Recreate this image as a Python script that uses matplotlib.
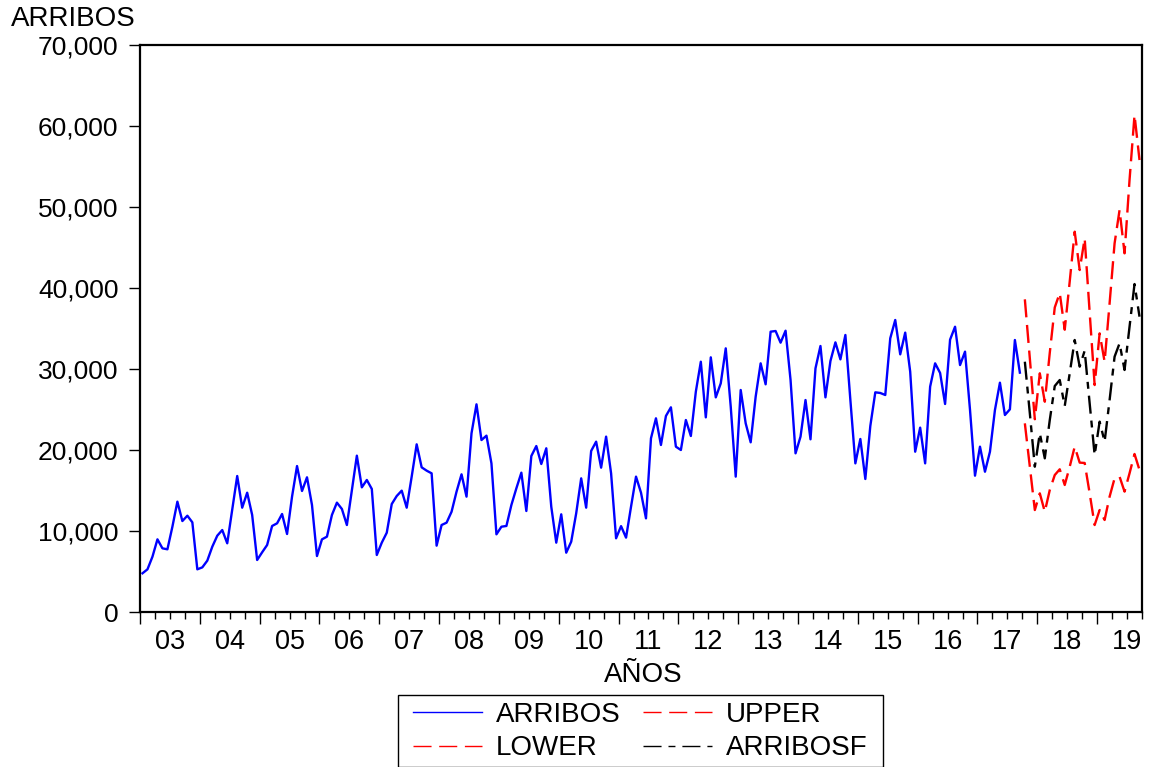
import numpy as np
import pandas as pd
import matplotlib
matplotlib.use("Agg")
import matplotlib.pyplot as plt
from matplotlib.lines import Line2D
from matplotlib.patches import Rectangle
from matplotlib.ticker import FixedLocator, StrMethodFormatter
import matplotlib.transforms as mtransforms

# ---------------- data ----------------
series_start = "2003-01"
forecast_start = "2017-10"

arribos = [
    4780, 5270, 6830, 8970, 7860, 7740, 10530, 13620, 11230, 11890, 11070, 5270,
    5510, 6340, 8060, 9420, 10120, 8480, 12590, 16790, 12880, 14730, 11980, 6420,
    7370, 8270, 10620, 10950, 12100, 9630, 14240, 18020, 14940, 16630, 13210, 6910,
    8970, 9300, 11980, 13500, 12720, 10740, 15060, 19300, 15390, 16300, 15190, 7040,
    8560, 9790, 13330, 14320, 14980, 12880, 16710, 20700, 17860, 17450, 17120, 8190,
    10740, 11030, 12380, 14860, 17000, 14240, 22060, 25640, 21230, 21770, 18350, 9590,
    10530, 10620, 13210, 15270, 17200, 12470, 19260, 20490, 18270, 20210, 13000, 8560,
    12060, 7320, 8680, 12180, 16500, 12880, 19880, 21030, 17820, 21650, 17120, 9100,
    10600, 9180, 13000, 16710, 14730, 11560, 21440, 23910, 20620, 24200, 25270, 20410,
    20000, 23700, 21730, 27200, 30900, 24030, 31440, 26500, 28230, 32550, 25350, 16710,
    27410, 23290, 20950, 26580, 30700, 28110, 34610, 34690, 33250, 34730, 28640, 19590,
    21650, 26170, 21320, 30080, 32840, 26500, 30990, 33290, 31190, 34200, 26170, 18350,
    21360, 16420, 22960, 27120, 27040, 26790, 33790, 36050, 31810, 34490, 29670, 19790,
    22760, 18350, 27820, 30700, 29510, 25680, 33620, 35220, 30490, 32140, 24940, 16830,
    20410, 17320, 19790, 24940, 28310, 24320, 25020, 33580, 29550,
]

upper = [
    38600, 31300, 23800, 29470, 25960, 32000, 37600, 39380, 34850, 40800, 46950, 42220,
    46130, 37000, 28020, 34400, 30900, 38110, 45510, 49630, 44280, 53330, 61360, 55800,
]

lower = [
    23290, 17940, 12590, 14650, 12380, 15060, 16910, 17620, 15680, 17940, 20410, 18440,
    18400, 14650, 10740, 12590, 11360, 14240, 16500, 16710, 14860, 17120, 19510, 17530,
]

arribosf = [
    30900, 24530, 17940, 22060, 18970, 23700, 27900, 28640, 25430, 29470, 33580, 30290,
    32260, 25760, 19380, 23500, 21030, 26170, 31520, 33170, 29880, 35220, 40490, 36460,
]

year_labels = ["03", "04", "05", "06", "07", "08", "09", "10", "11",
               "12", "13", "14", "15", "16", "17", "18", "19"]
y_ticks = [0, 10000, 20000, 30000, 40000, 50000, 60000, 70000]

# ---------------- style ----------------
plt.rcParams['font.family'] = ['Liberation Sans', 'DejaVu Sans']
plt.rcParams['lines.scale_dashes'] = False
FS_NUM = 19
FS_TXT = 20

W, H = 1150, 767
fig = plt.figure(figsize=(W / 100, H / 100), dpi=100)
ax = fig.add_axes([140 / W, 1 - 612 / H, (1142 - 140) / W, (612 - 45) / H])


def to_x(periods):
    return np.asarray(periods.year + (periods.month - 0.5) / 12.0, dtype=float)


obs = pd.period_range(series_start, periods=len(arribos), freq="M")
fc = pd.period_range(forecast_start, periods=len(arribosf), freq="M")
xo = to_x(obs)
xf = to_x(fc)

blue = "#0000FF"
red = "#FF0000"
red_dash = (13, 5.5)
blk_dash = (13, 5, 5, 5)
LW = 1.7

ax.plot(xo, arribos, color=blue, lw=LW)
ax.plot(xf, upper, color=red, lw=LW, dashes=red_dash)
ax.plot(xf, lower, color=red, lw=LW, dashes=red_dash)
ax.plot(xf, arribosf, color="black", lw=LW, dashes=blk_dash)

first_year = obs[0].year
last_year = fc[-1].year
x_end = fc[-1].year + fc[-1].month / 12.0
ax.set_xlim(first_year, x_end)
ax.set_ylim(y_ticks[0], y_ticks[-1])

ax.yaxis.set_major_locator(FixedLocator(y_ticks))
ax.yaxis.set_major_formatter(StrMethodFormatter("{x:,.0f}"))
ax.tick_params(axis='y', direction='out', length=8.0, width=1.0, pad=7.5,
               labelsize=FS_NUM, colors='black')

years = np.arange(first_year, last_year + 1)
ax.xaxis.set_major_locator(FixedLocator(years))
ax.xaxis.set_minor_locator(FixedLocator(np.arange(first_year, x_end + 0.001, 0.25)))
ax.tick_params(axis='x', which='major', direction='out', length=8.6, width=1.0,
               labelbottom=False)
ax.tick_params(axis='x', which='minor', direction='out', length=4.7, width=1.0)

trans = mtransforms.blended_transform_factory(ax.transData, ax.transAxes)
for yr, lab in zip(years, year_labels):
    ax.text(yr + 0.5, -0.053, lab, transform=trans, ha='center', va='center',
            fontsize=FS_NUM + 0.5)

for s in ax.spines.values():
    s.set_linewidth(1.6)
    s.set_color('black')

fig.text(11 / W, 1 - 19 / H, "ARRIBOS", ha='left', va='center', fontsize=FS_TXT)
fig.text(643 / W, 1 - 675 / H, "AÑOS", ha='center', va='center', fontsize=FS_TXT)

handles = [
    Line2D([], [], color=blue, lw=1.0),
    Line2D([], [], color=red, lw=1.0, dashes=red_dash),
    Line2D([], [], color=red, lw=1.0, dashes=red_dash),
    Line2D([], [], color="black", lw=1.0, dashes=blk_dash),
]
labels = ["ARRIBOS", "LOWER", "UPPER", "ARRIBOSF"]
fs_px = FS_TXT * 100 / 72.0
leg = fig.legend(handles, labels, ncol=2, loc='upper left',
                 bbox_to_anchor=(413 / W, 1 - 702 / H), frameon=False,
                 fontsize=FS_TXT,
                 handlelength=69 / fs_px, handletextpad=14 / fs_px,
                 columnspacing=22 / fs_px,
                 labelspacing=0.26, borderpad=0.0, borderaxespad=0.0)

frame = Rectangle((398 / W, 0.0), (883 - 398) / W, (767 - 695) / H,
                  transform=fig.transFigure, fill=False, edgecolor='black',
                  linewidth=1.0, clip_on=False)
fig.add_artist(frame)

fig.savefig("out.png", dpi=100)
